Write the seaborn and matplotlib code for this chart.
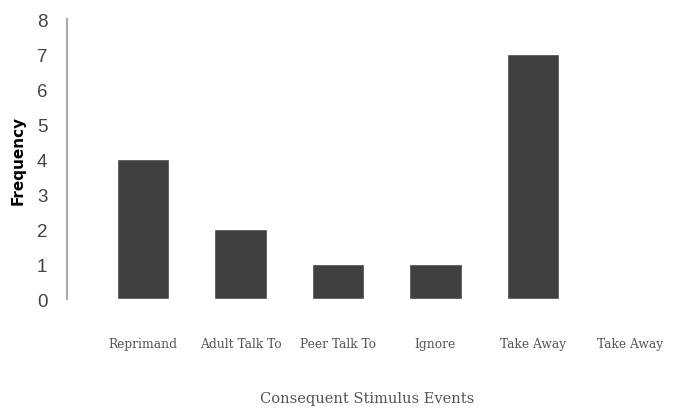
import pandas as pd
import seaborn as sns
import matplotlib.pyplot as plt

event_ids = ['e1', 'e2', 'e3', 'e4', 'e5', 'e6']
tick_labels = ['Reprimand', 'Adult Talk To', 'Peer Talk To', 'Ignore', 'Take Away', 'Take Away']
frequency = [4, 2, 1, 1, 7, 0]
y_ticks = [0, 1, 2, 3, 4, 5, 6, 7, 8]

df = pd.DataFrame({'event': event_ids, 'freq': frequency})

sns.set_style('white')
fig = plt.figure(figsize=(6.75, 4.1), dpi=100)
ax = fig.add_axes([0.099, 0.268, 0.89, 0.683])

sns.barplot(data=df, x='event', y='freq', color='#404040', width=0.54,
            saturation=1, ax=ax)

ax.set_ylim(0, 8)
ax.set_xlim(-0.78, 5.38)
ax.set_yticks(y_ticks)
ax.set_yticklabels([str(t) for t in y_ticks], fontsize=13.5, color='#444444',
                   family='Liberation Sans')
ax.tick_params(axis='y', length=4, color='#bbbbbb', pad=10)
ax.tick_params(axis='x', length=0, pad=27)
ax.set_xticks(range(len(tick_labels)))
ax.set_xticklabels(tick_labels, fontsize=8.8, color='#555555', family='DejaVu Serif')

sns.despine(ax=ax, bottom=True)
ax.spines['left'].set_color('#aaaaaa')
ax.spines['left'].set_linewidth(1.5)
ax.spines['left'].set_bounds(0, 8)

ax.set_ylabel('Frequency', fontsize=11, fontweight='heavy', color='black',
              family='Liberation Sans Narrow', labelpad=8)
ax.set_xlabel('Consequent Stimulus Events', fontsize=10.5, color='#555555',
              family='DejaVu Serif', labelpad=30)

plt.savefig('out.png', dpi=100)
plt.close()
